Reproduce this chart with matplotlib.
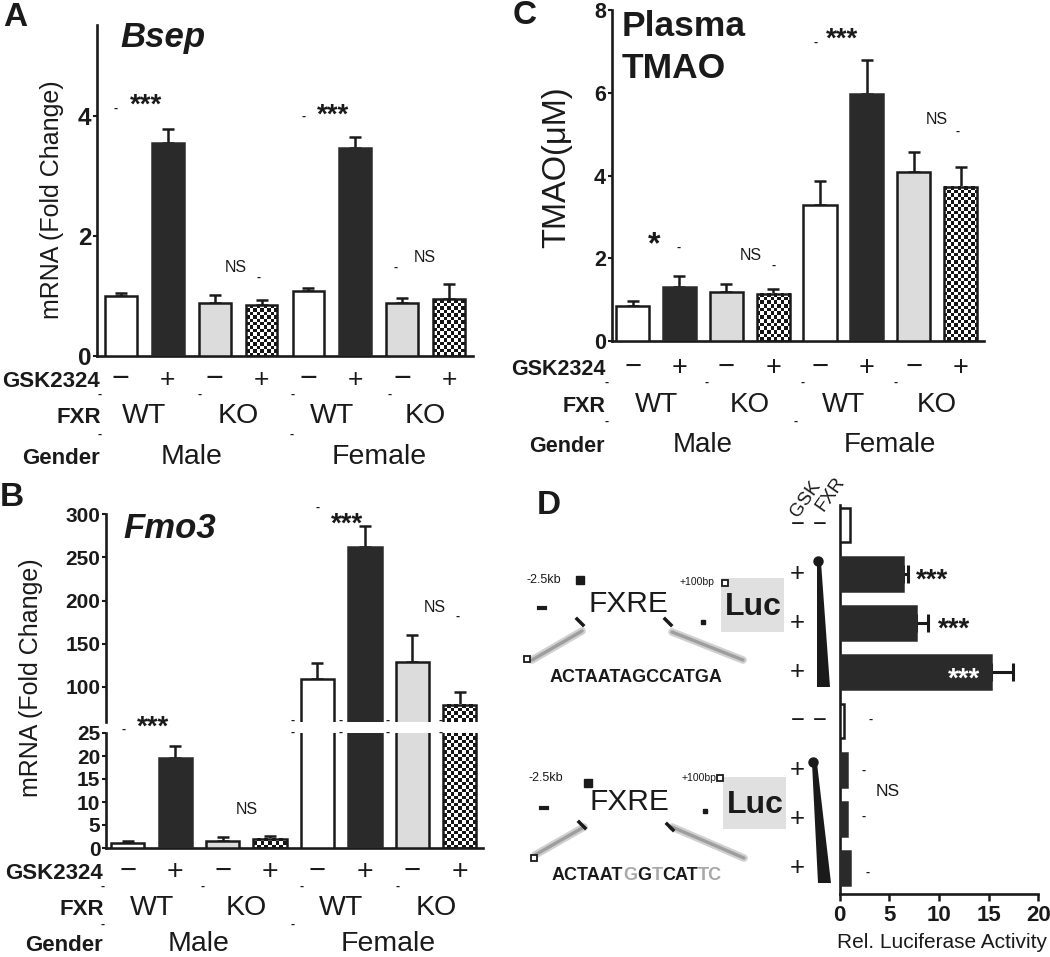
import numpy as np
import matplotlib
matplotlib.use('Agg')
import matplotlib.pyplot as plt
from matplotlib import transforms
from matplotlib.colors import ListedColormap
from matplotlib.patches import Polygon, Rectangle

plt.rcParams['font.family'] = ['Liberation Sans', 'DejaVu Sans']

# ---------------- data ----------------
gsk_signs = ['−', '+', '−', '+', '−', '+', '−', '+']
fxr_labels = ['WT', 'KO', 'WT', 'KO']
gender_labels = ['Male', 'Female']
fills = ['open', 'solid', 'grey', 'check', 'open', 'solid', 'grey', 'check']

bsep_mean = [1.00, 3.55, 0.88, 0.85, 1.08, 3.47, 0.88, 0.95]
bsep_sem = [0.05, 0.23, 0.14, 0.08, 0.05, 0.18, 0.09, 0.25]

fmo3_mean = [1.0, 19.5, 1.6, 2.0, 109, 262, 129, 79]
fmo3_sem = [0.6, 2.6, 0.7, 0.7, 18, 24, 31, 15]

tmao_mean = [0.85, 1.31, 1.19, 1.14, 3.29, 5.98, 4.09, 3.73]
tmao_sem = [0.12, 0.26, 0.19, 0.12, 0.57, 0.80, 0.49, 0.47]

luc_mean = [1.05, 6.35, 7.7, 15.2, 0.5, 0.75, 0.8, 1.05]
luc_sem = [0, 0.55, 1.2, 2.2, 0, 0, 0, 0]
luc_gsk = ['−', '+', '+', '+', '−', '+', '+', '+']
luc_fill = ['open', 'solid', 'solid', 'solid', 'open', 'solid', 'solid', 'solid']

seq_wt = 'ACTAATAGCCATGA'
seq_mut = ['ACTAAT', 'G', 'G', 'T', 'CAT', 'TC']
seq_mut_gray = [False, True, False, True, False, True]

# ---------------- figure ----------------
W, H = 1050, 957
fig = plt.figure(figsize=(W / 100, H / 100), dpi=100)
INK = '#1a1a1a'


def add_ax(x0, y0, x1, y1):
    return fig.add_axes([x0 / W, 1 - y1 / H, (x1 - x0) / W, (y1 - y0) / H])


ov = fig.add_axes([0, 0, 1, 1])
ov.set_xlim(0, W)
ov.set_ylim(H, 0)
ov.axis('off')
ov.set_zorder(10)

FACE = {'open': 'white', 'solid': '#2a2a2a', 'grey': '#dcdcdc', 'check': 'none'}
EDGE = {'open': INK, 'solid': '#2a2a2a', 'grey': INK, 'check': INK}
SP = 1.9


def style_ax(ax, left=True, bottom=True):
    for s in ['top', 'right']:
        ax.spines[s].set_visible(False)
    ax.spines['left'].set_visible(left)
    ax.spines['bottom'].set_visible(bottom)
    for s in ['left', 'bottom']:
        ax.spines[s].set_linewidth(SP)
        ax.spines[s].set_color(INK)
    ax.patch.set_alpha(0)


def checker(ax, x0, x1, y0, y1, cell=3.5):
    p0 = ax.transData.transform((x0, y0))
    p1 = ax.transData.transform((x1, y1))
    nx = max(1, int(round(abs(p1[0] - p0[0]) / cell)))
    ny = max(1, int(round(abs(p1[1] - p0[1]) / cell)))
    arr = np.add.outer(np.arange(ny), np.arange(nx)) % 2
    ax.imshow(arr, cmap=ListedColormap(['white', '#151515']), extent=(x0, x1, y0, y1),
              aspect='auto', interpolation='nearest', origin='lower', zorder=2)


def vbars(ax, means, sems, width, ylim, xlim):
    x = np.arange(len(means))
    ax.set_xlim(*xlim)
    ax.set_ylim(*ylim)
    for i, (m, f) in enumerate(zip(means, fills)):
        if f == 'check':
            lo = max(0, ylim[0])
            hi = min(m, ylim[1])
            if hi > lo:
                checker(ax, i - width / 2, i + width / 2, lo, hi)
        ax.bar(i, m, width, color=FACE[f], edgecolor=EDGE[f], linewidth=1.8, zorder=3)
    sems = np.array(sems)
    ax.errorbar(x, means, yerr=[np.zeros_like(sems), sems], fmt='none', ecolor=INK,
                elinewidth=1.8, capsize=4.5, capthick=1.8, zorder=1)
    ax.set_xlim(*xlim)
    ax.set_ylim(*ylim)
    ax.set_xticks([])


def yticks(ax, ticks, size):
    ax.tick_params(axis='y', length=3, width=1.5, direction='out', pad=1, colors=INK)
    ax.set_yticks(ticks)
    ax.set_yticklabels([str(t) for t in ticks], fontsize=size, fontweight='bold', color=INK)
    for lab in ax.get_yticklabels():
        lab.set_fontweight('bold')


def row_labels(ax, y_gsk, y_fxr, y_gen, xr, fs_head, fs_minus, fs_plus, fs_lab):
    tr = transforms.blended_transform_factory(ax.transData, ov.transData)
    kw = dict(va='baseline', fontsize=fs_head, fontweight='bold', color=INK)
    ov.text(xr, y_gsk, 'GSK2324', ha='right', **kw)
    ov.text(xr + 1, y_fxr, 'FXR', ha='right', **kw)
    ov.text(xr, y_gen, 'Gender', ha='right', **kw)
    for i, s in enumerate(gsk_signs):
        ov.text(i, y_gsk, s, transform=tr, ha='center', va='baseline',
                fontsize=fs_minus if s == '−' else fs_plus, color=INK)
    for k, s in enumerate(fxr_labels):
        ov.text(2 * k + 0.5, y_fxr, s, transform=tr, ha='center', va='baseline', fontsize=fs_lab, color=INK)
    for k, s in enumerate(gender_labels):
        ov.text(4 * k + 1.5, y_gen, s, transform=tr, ha='center', va='baseline', fontsize=fs_lab, color=INK)


def dashes(pts, fs=9):
    for (x, y) in pts:
        ov.text(x, y, '-', ha='center', va='center', fontsize=fs, fontweight='bold', color=INK)


def stars(x, y, s='***', fs=20, color=INK):
    ov.text(x, y, s, ha='center', va='baseline', fontsize=fs, fontweight='bold', color=color)


def ns(x, y, fs=11.5):
    ov.text(x, y, 'NS', ha='center', va='center', fontsize=fs, color=INK)


# ---------------- Panel A ----------------
axA = add_ax(97, 25, 473, 356)
style_ax(axA)
vbars(axA, bsep_mean, bsep_sem, 0.68, (0, 5.52), (-0.51, 7.51))
yticks(axA, [0, 2, 4], 17.5)
row_labels(axA, 387, 423, 464, 100, 16, 22, 19, 20.5)
ov.text(3, 17, 'A', ha='left', va='center', fontsize=24, fontweight='bold', color=INK)
ov.text(120, 38, 'Bsep', ha='left', va='center', fontsize=25, fontweight='bold', style='italic', color=INK)
ov.text(52, 200, 'mRNA (Fold Change)', rotation=90, ha='center', va='center', fontsize=18, color=INK)
stars(146, 113)
stars(333, 123)
ns(236, 268)
ns(425, 258)
dashes([(116, 109), (304, 117), (259, 278), (396, 268), (100, 395), (200, 395), (293, 395),
        (390, 395), (100, 435), (292, 435)])

# ---------------- Panel B (broken axis) ----------------
axBu = add_ax(106, 514, 483, 722)
axBl = add_ax(106, 733, 483, 848)
style_ax(axBu, bottom=False)
style_ax(axBl)
vbars(axBu, fmo3_mean, fmo3_sem, 0.70, (59, 300.5), (-0.46, 7.49))
vbars(axBl, fmo3_mean, fmo3_sem, 0.70, (0, 25), (-0.46, 7.49))
yticks(axBu, [100, 150, 200, 250, 300], 15)
yticks(axBl, [0, 5, 10, 15, 20, 25], 15)
row_labels(axBl, 879, 915, 951, 103, 16, 21, 20.5, 20.5)
ov.text(0, 497, 'B', ha='left', va='center', fontsize=24, fontweight='bold', color=INK)
ov.text(123, 528, 'Fmo3', ha='left', va='center', fontsize=25, fontweight='bold', style='italic', color=INK)
ov.text(31, 678, 'mRNA (Fold Change)', rotation=90, ha='center', va='center', fontsize=18, color=INK)
stars(153, 735)
stars(347, 532)
ns(247, 810)
ns(435, 607)
dashes([(124, 730), (318, 508), (458, 617), (103, 887), (203, 887), (302, 887), (398, 887),
        (103, 925), (293, 925), (293, 721), (293, 733), (341, 721), (341, 733), (388, 721),
        (388, 733), (441, 721), (441, 733)])

# ---------------- Panel C ----------------
axC = add_ax(611.5, 10, 984, 341)
style_ax(axC)
vbars(axC, tmao_mean, tmao_sem, 0.71, (0, 8), (-0.45, 7.5))
yticks(axC, [0, 2, 4, 6, 8], 15.5)
row_labels(axC, 375, 412, 452, 605, 15.5, 21, 19.5, 20)
ov.text(513, 16, 'C', ha='left', va='center', fontsize=24, fontweight='bold', color=INK)
ov.text(622, 26, 'Plasma', ha='left', va='center', fontsize=25.5, fontweight='bold', color=INK)
ov.text(622, 69, 'TMAO', ha='left', va='center', fontsize=25.5, fontweight='bold', color=INK)
ov.text(557, 167, 'TMAO(μM)', rotation=90, ha='center', va='center', fontsize=23.5, color=INK)
stars(654, 253, '*', fs=23)
stars(842, 47)
ns(751, 255)
ns(937, 120)
dashes([(816, 43), (679, 248), (774, 266), (958, 132), (607, 383), (707, 383), (803, 383),
        (896, 383), (607, 422), (796, 422)])

# ---------------- Panel D ----------------
axD = add_ax(839.5, 505, 1038.4, 894)
style_ax(axD)
axD.set_xlim(0, 20)
axD.set_ylim(7.53, -0.41)
for i, (m, f) in enumerate(zip(luc_mean, luc_fill)):
    axD.barh(i, m, 0.71, color=FACE[f], edgecolor=EDGE[f], linewidth=1.8, zorder=3)
for i, (m, s) in enumerate(zip(luc_mean, luc_sem)):
    if s > 0:
        axD.errorbar(m, i, xerr=[[0], [s]], fmt='none', ecolor=INK, elinewidth=2.2,
                     capsize=6.5, capthick=2.2, zorder=2)
axD.set_xlim(0, 20)
axD.set_ylim(7.53, -0.41)
axD.set_yticks([])
axD.tick_params(axis='x', length=5, width=1.8, direction='out', pad=3, colors=INK)
axD.set_xticks([0, 5, 10, 15, 20])
axD.set_xticklabels(['0', '5', '10', '15', '20'], fontsize=16, fontweight='bold', color=INK)
for lab in axD.get_xticklabels():
    lab.set_fontweight('bold')
ov.text(942, 942, 'Rel. Luciferase Activity', ha='center', va='center', fontsize=15, color=INK)
ov.text(537, 505, 'D', ha='left', va='center', fontsize=24, fontweight='bold', color=INK)

trD = transforms.blended_transform_factory(ov.transData, axD.transData)
for i, s in enumerate(luc_gsk):
    if s == '−':
        ov.text(798, i, '−', transform=trD, ha='center', va='center', fontsize=17, color=INK)
        ov.text(820, i, '−', transform=trD, ha='center', va='center', fontsize=17, color=INK)
    else:
        ov.text(797, i, '+', transform=trD, ha='center', va='center', fontsize=18.5, color=INK)
ov.text(806, 499, 'GSK', rotation=55, ha='center', va='center', fontsize=13.5, color=INK)
ov.text(831, 494, 'FXR', rotation=55, ha='center', va='center', fontsize=13.5, color=INK)
# wedges (increasing FXR)
for pts, blob in [([(817, 562), (821, 562), (830, 687), (817, 687)], (818, 561)),
                  ([(812, 763), (817, 763), (831, 883), (818, 883)], (813, 762))]:
    ov.add_patch(Polygon(pts, closed=True, facecolor=INK, edgecolor='none'))
    ov.plot(*blob, marker='o', ms=6.5, color=INK)

stars(932, 588)
stars(954, 637)
stars(964, 687, color='white')
ns(888, 792, fs=12.5)
dashes([(871, 720), (864, 771), (864, 817), (868, 873)])

# ---------------- promoter diagrams ----------------
diag = [
    dict(box=(721, 578, 784, 632), luc=(753, 607), fxre=(628, 604), kb=(544, 580), bp=(697, 582),
         lines=[(532, 660, 582, 631), (672, 632, 743, 660)], fsq=(580, 580), osq=(725, 583),
         osq2=(527, 659), dash=(542, 608), dot=(703, 622), diag=[(580, 622), (668, 622)], seq=(636, 678)),
    dict(box=(723, 777, 786, 829), luc=(755, 805), fxre=(629, 802), kb=(546, 778), bp=(699, 778),
         lines=[(535, 855, 584, 827), (672, 827, 744, 858)], fsq=(588, 783), osq=(720, 778),
         osq2=(534, 858), dash=(544, 808), dot=(705, 811), diag=[(582, 825), (670, 827)], seq=(637, 876)),
]
r = fig.canvas.get_renderer()
for k, d in enumerate(diag):
    x0, y0, x1, y1 = d['box']
    ov.add_patch(Rectangle((x0, y0), x1 - x0, y1 - y0, facecolor='#e0e0e0', edgecolor='none'))
    ov.text(*d['luc'], 'Luc', ha='center', va='center', fontsize=23, fontweight='bold', color=INK)
    ov.text(*d['fxre'], 'FXRE', ha='center', va='center', fontsize=21.5, color=INK)
    ov.text(*d['kb'], '-2.5kb', ha='center', va='center', fontsize=9, color=INK)
    ov.text(*d['bp'], '+100bp', ha='center', va='center', fontsize=7.5, color=INK)
    for (a, b, c, e) in d['lines']:
        ov.plot([a, c], [b, e], color='#d0d0d0', lw=5.5, solid_capstyle='round')
        ov.plot([a, c], [b, e], color='#9e9e9e', lw=2.4, solid_capstyle='round')
    ov.plot(*d['fsq'], marker='s', ms=5.5, color=INK)
    ov.plot(*d['osq'], marker='s', ms=5, mfc='white', mec=INK, mew=1.3)
    ov.plot(*d['osq2'], marker='s', ms=5, mfc='white', mec=INK, mew=1.3)
    ov.plot([d['dash'][0] - 3, d['dash'][0] + 3], [d['dash'][1]] * 2, color=INK, lw=3)
    ov.plot(*d['dot'], marker='s', ms=3, color=INK)
    for (a, b) in d['diag']:
        ov.plot([a - 3, a + 3], [b - 3, b + 3], color=INK, lw=2.5)
    if k == 0:
        ov.text(*d['seq'], seq_wt, ha='center', va='center', fontsize=13, fontweight='bold', color=INK)
    else:
        parts = []
        total = 0
        for part, g in zip(seq_mut, seq_mut_gray):
            t = ov.text(0, d['seq'][1], part, ha='left', va='center', fontsize=13, fontweight='bold',
                        color='#a8a8a8' if g else INK)
            w = t.get_window_extent(renderer=r).width
            parts.append((t, w))
            total += w
        x = d['seq'][0] - total / 2
        for t, w in parts:
            t.set_x(x)
            x += w

fig.savefig('out.png', dpi=100, facecolor='white')
